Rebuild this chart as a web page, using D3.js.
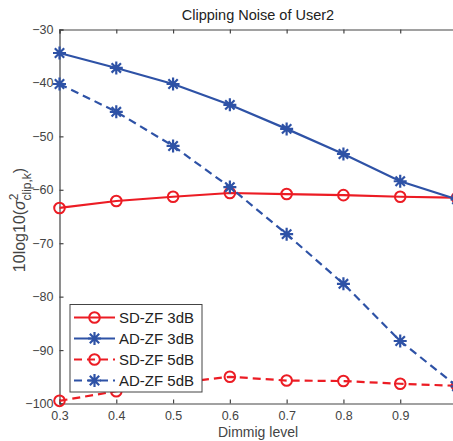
<!DOCTYPE html>
<html><head><meta charset="utf-8">
<script src="https://cdn.jsdelivr.net/npm/d3@7"></script>
<style>body{margin:0;background:#fff}svg{display:block}text{font-family:"Liberation Sans",Arial,sans-serif}</style>
</head><body><svg id="c" width="453" height="441"></svg>
<script>
const dimming = [0.3,0.4,0.5,0.6,0.7,0.8,0.9,1.0];
const sdzf3 = [-63.4,-62.1,-61.3,-60.6,-60.8,-61.0,-61.3,-61.5];
const adzf3 = [-34.4,-37.2,-40.2,-44.1,-48.6,-53.3,-58.4,-61.8];
const sdzf5 = [-99.5,-97.7,-96.2,-95.0,-95.7,-95.8,-96.3,-96.7];
const adzf5 = [-40.2,-45.4,-51.8,-59.5,-68.3,-77.6,-88.3,-96.8];
const xTicks = [0.3,0.4,0.5,0.6,0.7,0.8,0.9];
const yTicks = [-30,-40,-50,-60,-70,-80,-90,-100];
const seriesNames = ["SD-ZF 3dB","AD-ZF 3dB","SD-ZF 5dB","AD-ZF 5dB"];

const red = "#ec1c24", blue = "#2e52a6";
const series = [
  {name:seriesNames[0], v:sdzf3, color:red, dash:null, marker:"o"},
  {name:seriesNames[1], v:adzf3, color:blue, dash:null, marker:"*"},
  {name:seriesNames[2], v:sdzf5, color:red, dash:"8,5", marker:"o"},
  {name:seriesNames[3], v:adzf5, color:blue, dash:"8,5", marker:"*"}
];

const svg = d3.select("#c");
const L=59.5, R=457, T=29.5, B=403.5;
const x = d3.scaleLinear().domain([0.3,1.0]).range([L,R]);
const y = d3.scaleLinear().domain([-100,-30]).range([B,T]);
const axCol = "#444";

const gx = svg.append("g").attr("transform",`translate(0,${B})`)
  .call(d3.axisBottom(x).tickValues(xTicks).tickSize(-4).tickPadding(8).tickFormat(d3.format(".1f")));
const gxt = svg.append("g").attr("transform",`translate(0,${T})`)
  .call(d3.axisTop(x).tickValues(xTicks).tickSize(-4).tickFormat(""));
const gy = svg.append("g").attr("transform",`translate(${L},0)`)
  .call(d3.axisLeft(y).tickValues(yTicks).tickSize(-4).tickPadding(6).tickFormat(d3.format("d")));
[gx,gxt,gy].forEach(g=>{
  g.selectAll("path").attr("stroke",axCol).attr("stroke-width",1.2);
  g.selectAll("line").attr("stroke",axCol).attr("stroke-width",1.2);
  g.selectAll("text").attr("fill",axCol).style("font-size","12.5px").style("font-family","'Liberation Sans',Arial,sans-serif");
});

function star(g, cx, cy, r, color){
  const d = [];
  d.push(`M${cx-r},${cy}L${cx+r},${cy}`);
  d.push(`M${cx},${cy-r}L${cx},${cy+r}`);
  const q=r*0.72;
  d.push(`M${cx-q},${cy-q}L${cx+q},${cy+q}`);
  d.push(`M${cx-q},${cy+q}L${cx+q},${cy-q}`);
  g.append("path").attr("d",d.join("")).attr("stroke",color).attr("stroke-width",2.2).attr("fill","none");
}
function marker(g, m, cx, cy, color){
  if(m==="o") g.append("circle").attr("cx",cx).attr("cy",cy).attr("r",5.3).attr("fill","none").attr("stroke",color).attr("stroke-width",2);
  else star(g,cx,cy,6.5,color);
}

const plot = svg.append("g");
const line = d3.line().x((d,i)=>x(dimming[i])).y(d=>y(d));
series.forEach(s=>{
  plot.append("path").attr("d",line(s.v)).attr("fill","none").attr("stroke",s.color)
    .attr("stroke-width",2.2).attr("stroke-dasharray",s.dash);
  const mg = plot.append("g");
  s.v.forEach((v,i)=>marker(mg,s.marker,x(dimming[i]),y(v),s.color));
});

const lg = svg.append("g");
lg.append("rect").attr("x",70).attr("y",304.5).attr("width",132).attr("height",87.5)
  .attr("fill","#fff").attr("stroke","#444").attr("stroke-width",1);
series.forEach((s,i)=>{
  const yy = 317.5 + i*21;
  lg.append("line").attr("x1",74).attr("x2",115).attr("y1",yy).attr("y2",yy)
    .attr("stroke",s.color).attr("stroke-width",2.2).attr("stroke-dasharray",s.dash);
  marker(lg,s.marker,94.5,yy,s.color);
  lg.append("text").attr("x",119).attr("y",yy+5.5).text(s.name).attr("fill","#222").style("font-size","15px");
});

svg.append("text").attr("x",258).attr("y",20).attr("text-anchor","middle").attr("fill","#222")
  .style("font-size","14.5px").text("Clipping Noise of User2");
svg.append("text").attr("x",258).attr("y",437).attr("text-anchor","middle").attr("fill",axCol)
  .style("font-size","14px").text("Dimmig level");
const yl = svg.append("text").attr("transform","translate(25,220) rotate(-90)").attr("text-anchor","middle")
  .attr("fill",axCol).style("font-size","16px");
yl.append("tspan").text("10log10(");
yl.append("tspan").text("σ").style("font-style","italic");
yl.append("tspan").text("2").attr("dy",-7).style("font-size","12px");
yl.append("tspan").text("clip,k").attr("dx",-7).attr("dy",13).style("font-size","12px");
yl.append("tspan").text(")").attr("dy",-6);
</script></body></html>
